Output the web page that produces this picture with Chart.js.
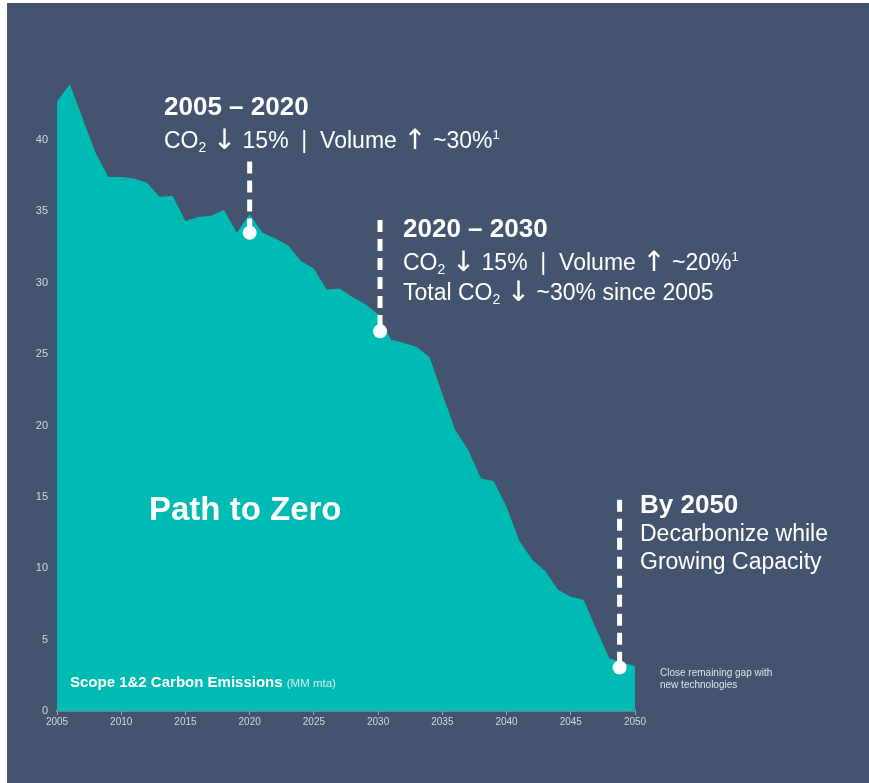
<!DOCTYPE html>
<html>
<head>
<meta charset="utf-8">
<script src="https://cdn.jsdelivr.net/npm/chart.js@4.4.1/dist/chart.umd.min.js"></script>
<style>
  html, body { margin: 0; padding: 0; background: #ffffff; }
  body { width: 869px; height: 783px; position: relative; overflow: hidden; font-family: "Liberation Sans", Arial, sans-serif; }
  #panel { position: absolute; left: 7px; top: 3px; right: 0; bottom: 0; background: #44546e; }
  #chart { position: absolute; left: 0; top: 0; }
  .t { position: absolute; color: #ffffff; white-space: nowrap; line-height: 1; }
  .h { font-weight: bold; font-size: 26px; }
  .s { font-size: 23px; }
  .s sub { font-size: 14px; vertical-align: -4px; line-height: 0; }
  .s sup { font-size: 13px; vertical-align: 9px; line-height: 0; }
  .s .ar { font-family: "Noto Sans", "DejaVu Sans", sans-serif; font-size: 28px; line-height: 0; vertical-align: -1px; }
  .big { font-weight: bold; font-size: 33px; }
  .lbl { font-weight: bold; font-size: 15px; }
  .lbl span { font-weight: normal; font-size: 11.5px; color: #d6eceb; }
  .note { font-size: 10px; color: #dde2e8; }
</style>
</head>
<body>
<div id="panel"></div>
<canvas id="chart" width="869" height="783"></canvas>

<div class="t h" style="left:164px; top:93px;">2005 – 2020</div>
<div class="t s" style="left:164px; top:129px;">CO<sub>2</sub> <span class="ar">↓</span> 15%&nbsp; |&nbsp; Volume <span class="ar">↑</span> ~30%<sup>1</sup></div>

<div class="t h" style="left:403px; top:215px;">2020 – 2030</div>
<div class="t s" style="left:403px; top:251px;">CO<sub>2</sub> <span class="ar">↓</span> 15%&nbsp; |&nbsp; Volume <span class="ar">↑</span> ~20%<sup>1</sup></div>
<div class="t s" style="left:403px; top:281px;">Total CO<sub>2</sub> <span class="ar">↓</span> ~30% since 2005</div>

<div class="t h" style="left:640px; top:491px;">By 2050</div>
<div class="t s" style="left:640px; top:522px;">Decarbonize while</div>
<div class="t s" style="left:640px; top:550px;">Growing Capacity</div>

<div class="t big" style="left:149px; top:492px;">Path to Zero</div>
<div class="t lbl" style="left:70px; top:674px;">Scope 1&amp;2 Carbon Emissions <span>(MM mta)</span></div>
<div class="t note" style="left:660px; top:668px;">Close remaining gap with</div>
<div class="t note" style="left:660px; top:680px;">new technologies</div>

<script>
// emissions path, MM mta per year
const years = [2005, 2006, 2007, 2008, 2009, 2010, 2011, 2012, 2013, 2014,
  2015, 2016, 2017, 2018, 2019, 2020, 2021, 2022, 2023, 2024,
  2025, 2026, 2027, 2028, 2029, 2030, 2031, 2032, 2033, 2034,
  2035, 2036, 2037, 2038, 2039, 2040, 2041, 2042, 2043, 2044,
  2045, 2046, 2047, 2048, 2049, 2050];
const emissions = [42.7, 43.9, 41.5, 39.1, 37.4, 37.4, 37.3, 37.0, 36.0, 36.1,
  34.3, 34.6, 34.7, 35.1, 33.5, 34.8, 33.5, 33.1, 32.6, 31.5,
  31.0, 29.5, 29.6, 29.0, 28.5, 27.8, 26.0, 25.8, 25.5, 24.8,
  22.2, 19.7, 18.3, 16.3, 16.1, 14.3, 11.9, 10.6, 9.8, 8.5,
  8.0, 7.8, 5.7, 3.7, 3.4, 3.15];

// milestone markers: year, value at the dot, top of the dashed stem
const markerYears = [2020.0, 2030.15, 2048.8];
const markerValues = [33.5, 26.6, 3.05];
const markerTops = [38.5, 34.4, 14.8];

const xTicks = [2005, 2010, 2015, 2020, 2025, 2030, 2035, 2040, 2045, 2050];
const yTicks = [0, 5, 10, 15, 20, 25, 30, 35, 40];

const teal = '#00bab4';

const markerSets = markerYears.map((yr, i) => ({
  data: [{ x: yr, y: markerTops[i] }, { x: yr, y: markerValues[i] }],
  borderColor: '#ffffff',
  borderWidth: 5,
  borderDash: [12, 7],
  fill: false,
  pointRadius: [0, 7],
  pointBackgroundColor: '#ffffff',
  pointBorderWidth: 0,
  order: 0
}));

new Chart(document.getElementById('chart'), {
  type: 'line',
  data: {
    datasets: [{
      data: years.map((y, i) => ({ x: y, y: emissions[i] })),
      backgroundColor: teal,
      borderWidth: 0,
      fill: 'origin',
      pointRadius: 0,
      tension: 0,
      order: 1
    }, ...markerSets]
  },
  options: {
    responsive: false,
    animation: false,
    devicePixelRatio: 1,
    layout: { padding: { left: 27, right: 234, top: 68.6, bottom: 42 } },
    plugins: { legend: { display: false }, tooltip: { enabled: false } },
    scales: {
      x: {
        type: 'linear',
        min: 2005,
        max: 2050,
        afterFit: s => { s.height = 30; },
        afterBuildTicks: s => { s.ticks = xTicks.map(v => ({ value: v })); },
        ticks: {
          color: '#d3d7dd',
          font: { family: 'Liberation Sans', size: 10 },
          padding: 1,
          maxRotation: 0,
          callback: v => String(v)
        },
        grid: { display: true, drawOnChartArea: false, drawTicks: true, tickLength: 4, color: '#9ea4ac' },
        border: { display: true, color: '#9ea4ac', width: 1.5 }
      },
      y: {
        min: 0,
        max: 45,
        afterFit: s => { s.width = 30; },
        afterBuildTicks: s => { s.ticks = yTicks.map(v => ({ value: v })); },
        ticks: {
          color: '#d3d7dd',
          font: { family: 'Liberation Sans', size: 11 },
          padding: 9
        },
        grid: { display: false, drawTicks: false },
        border: { display: false }
      }
    }
  }
});
</script>
</body>
</html>
